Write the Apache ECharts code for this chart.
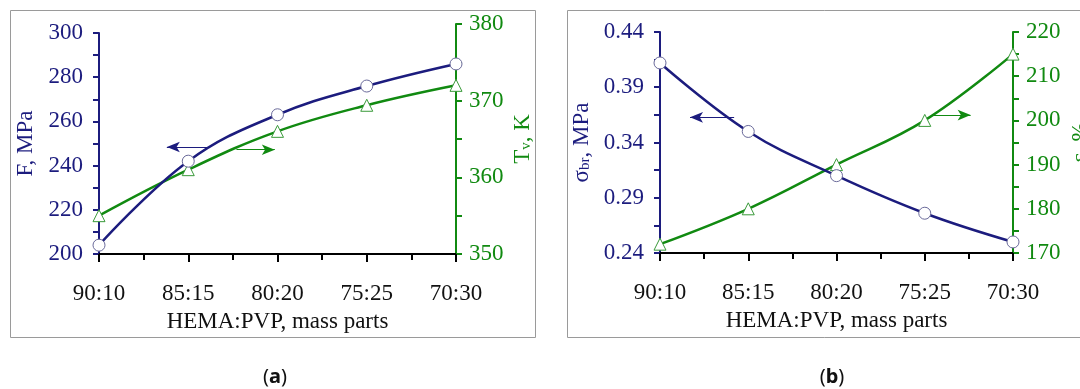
<!DOCTYPE html>
<html>
<head>
<meta charset="utf-8">
<script src="https://cdn.jsdelivr.net/npm/echarts@6/dist/echarts.min.js"></script>
<style>html,body{margin:0;padding:0;background:#fff;}#c{width:1080px;height:389px;}</style>
</head>
<body>
<div id="c"></div>
<script>
// ---- data ----
const categories = ['90:10', '85:15', '80:20', '75:25', '70:30'];
const fValues = [204, 242, 263, 276, 286];          // F, MPa (panel a, left)
const tvValues = [355, 361, 366, 369.4, 372];        // Tv, K (panel a, right)
const sigmaValues = [0.412, 0.35, 0.31, 0.276, 0.25]; // sigma_br, MPa (panel b, left)
const epsValues = [172, 180, 190, 200, 215];          // epsilon, % (panel b, right)
// arrow annotations [xStart, xEnd, y] in data units
const arrowF = [1.24, 0.76, 248.4];
const arrowTv = [1.54, 1.97, 363.6];
const arrowSigma = [0.84, 0.34, 0.3628];
const arrowEps = [3.07, 3.52, 201.2];

const BLUE = '#1c1c7e';
const GREEN = '#118a11';
const FONT = 'Liberation Serif';

const pairs = vals => vals.map((v, i) => [i, v]);

function xAxis(grid, show) {
  return {
    type: 'value', gridIndex: grid, min: 0, max: categories.length - 1, interval: 1,
    show: show,
    axisLine: { show: true, lineStyle: { color: '#000', width: 2 } },
    axisTick: { show: true, length: 8, lineStyle: { color: '#000', width: 2 } },
    minorTick: { show: true, splitNumber: 2, length: 6, lineStyle: { color: '#000', width: 2 } },
    splitLine: { show: false }, minorSplitLine: { show: false },
    axisLabel: { show: true, formatter: v => categories[Math.round(v)] || '', margin: 28,
      fontFamily: FONT, fontSize: 23, color: '#111' },
    name: 'HEMA:PVP, mass parts', nameLocation: 'middle', nameGap: 56,
    nameTextStyle: { fontFamily: FONT, fontSize: 23, color: '#111' }
  };
}

function yAxis(grid, pos, min, max, interval, color, name, rich, gap, fmt) {
  return {
    type: 'value', gridIndex: grid, position: pos, min: min, max: max, interval: interval,
    axisLine: { show: true, onZero: false, lineStyle: { color: color, width: 2 } },
    axisTick: { show: true, length: 6, lineStyle: { color: color, width: 2 } },
    minorTick: { show: true, splitNumber: 2, length: 6, lineStyle: { color: color, width: 2 } },
    splitLine: { show: false }, minorSplitLine: { show: false },
    axisLabel: { margin: pos === 'left' ? 16 : 13, fontFamily: FONT, fontSize: 23, color: color,
      formatter: fmt || (v => String(v)) },
    name: name, nameLocation: 'middle', nameRotate: 90, nameGap: gap,
    nameTextStyle: { fontFamily: FONT, fontSize: 23, color: color, rich: rich }
  };
}

const subRich = c => ({ s: { fontFamily: FONT, fontSize: 15, color: c, padding: [8, 0, 0, 0] } });

function lineSeries(x, y, data, color, symbol, borderColor, arrow) {
  return {
    type: 'line', xAxisIndex: x, yAxisIndex: y, data: data, smooth: 0.4,
    symbol: symbol, symbolSize: 12, showSymbol: true,
    lineStyle: { color: color, width: 2.5 },
    itemStyle: { color: '#fff', borderColor: borderColor, borderWidth: 1 },
    z: 3,
    markLine: {
      silent: true, animation: false,
      symbol: ['none', 'arrow'], symbolSize: [8, 13],
      label: { show: false },
      lineStyle: { color: color, width: 1, type: 'solid' },
      data: [[{ coord: [arrow[0], arrow[2]] }, { coord: [arrow[1], arrow[2]] }]]
    }
  };
}

const option = {
  animation: false,
  backgroundColor: '#fff',
  grid: [
    { left: 99, right: 624, top: 33, bottom: 135, containLabel: false, outerBoundsMode: 'none' },
    { left: 99, right: 624, top: 24, bottom: 135, containLabel: false, outerBoundsMode: 'none' },
    { left: 660, right: 67, top: 32, bottom: 136, containLabel: false, outerBoundsMode: 'none' }
  ],
  xAxis: [xAxis(0, true), xAxis(1, false), xAxis(2, true)],
  yAxis: [
    yAxis(0, 'left', 200, 300, 20, BLUE, 'F, MPa', {}, 62),
    yAxis(1, 'right', 350, 380, 10, GREEN, 'T{s|v}, K', subRich(GREEN), 55),
    yAxis(2, 'left', 0.24, 0.44, 0.05, BLUE, 'σ{s|br}, MPa', subRich(BLUE), 67, v => v.toFixed(2)),
    yAxis(2, 'right', 170, 220, 10, GREEN, 'ε, %', {}, 56)
  ],
  series: [
    lineSeries(1, 1, pairs(tvValues), GREEN, 'triangle', '#3a9a3a', arrowTv),
    lineSeries(0, 0, pairs(fValues), BLUE, 'circle', '#6a6a9a', arrowF),
    lineSeries(2, 3, pairs(epsValues), GREEN, 'triangle', '#3a9a3a', arrowEps),
    lineSeries(2, 2, pairs(sigmaValues), BLUE, 'circle', '#6a6a9a', arrowSigma)
  ],
  graphic: [
    { type: 'rect', silent: true, shape: { x: 10.5, y: 10.5, width: 525, height: 327 },
      style: { fill: 'none', stroke: '#9a9a9a', lineWidth: 1 } },
    { type: 'rect', silent: true, shape: { x: 567.5, y: 10.5, width: 600, height: 327 },
      style: { fill: 'none', stroke: '#9a9a9a', lineWidth: 1 } },
    { type: 'text', silent: true, x: 275, y: 377,
      style: { text: '({b|a})', fontFamily: 'Noto Sans', fontSize: 20, fill: '#111',
        align: 'center', verticalAlign: 'middle',
        rich: { b: { fontFamily: 'Noto Sans', fontSize: 20, fontWeight: 'bold', fill: '#111' } } } },
    { type: 'text', silent: true, x: 832, y: 377,
      style: { text: '({b|b})', fontFamily: 'Noto Sans', fontSize: 20, fill: '#111',
        align: 'center', verticalAlign: 'middle',
        rich: { b: { fontFamily: 'Noto Sans', fontSize: 20, fontWeight: 'bold', fill: '#111' } } } }
  ]
};

const chart = echarts.init(document.getElementById('c'), null, { renderer: 'canvas' });
chart.setOption(option);
</script>
</body>
</html>
